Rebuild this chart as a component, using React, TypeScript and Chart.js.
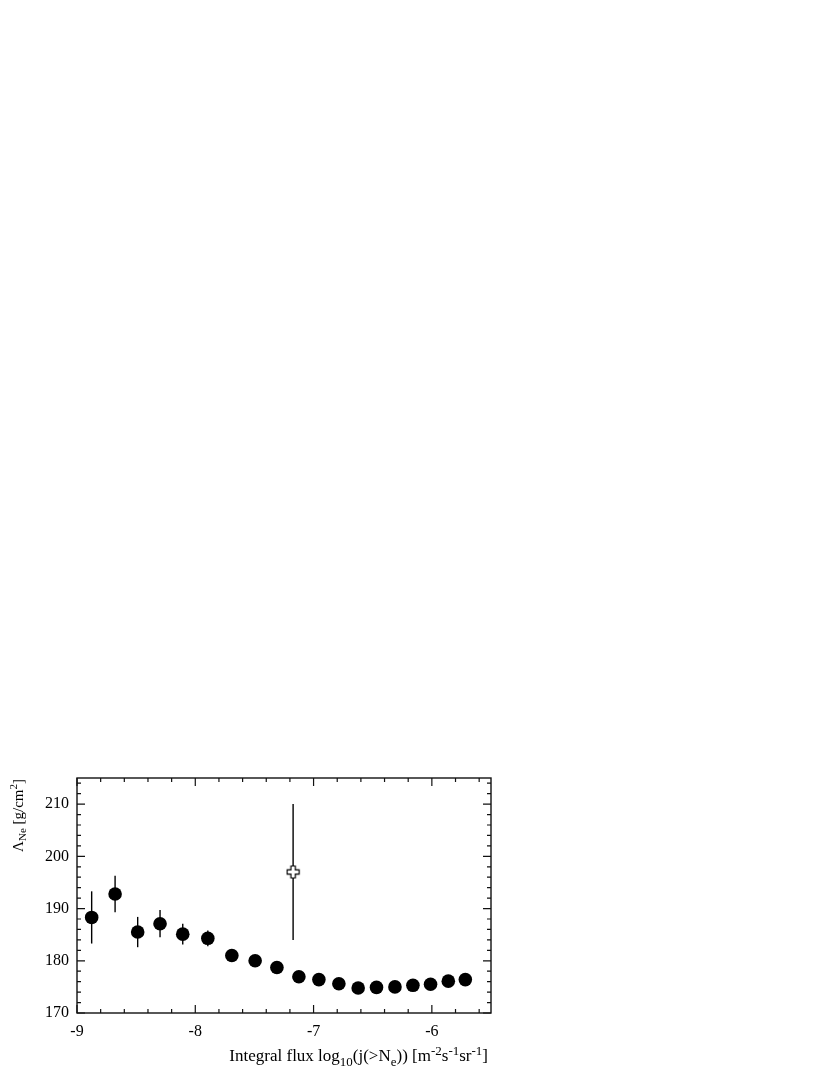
import React, { useEffect, useRef } from 'react';
import { Chart, registerables } from 'chart.js';

Chart.register(...registerables);

// Filled points: integral flux (log10) vs attenuation length Λ_Ne
const fluxX = [-8.876, -8.678, -8.487, -8.298, -8.106, -7.894, -7.691, -7.494, -7.31, -7.124, -6.955, -6.786, -6.623, -6.468, -6.312, -6.16, -6.011, -5.861, -5.717];
const lambdaY = [188.3, 192.8, 185.5, 187.1, 185.1, 184.3, 181.0, 180.0, 178.7, 176.95, 176.4, 175.6, 174.8, 174.9, 175.0, 175.3, 175.5, 176.1, 176.4];
const lambdaErr = [5.0, 3.5, 2.9, 2.6, 2.0, 1.5, 0.8, 0.7, 0.6, 0.5, 0.5, 0.5, 0.5, 0.5, 0.5, 0.5, 0.5, 0.5, 0.5];

// Open cross point
const openX = [-7.173];
const openY = [197.0];
const openErr = [13.0];

// Axis ranges and ticks
const xMin = -9;
const xMax = -5.5;
const xMajorStep = 1;
const xMinorStep = 0.2;
const yMin = 170;
const yMax = 215;
const yMajorStep = 10;
const yMinorStep = 2;

type Seg = { t: string; k: 'n' | 'sub' | 'sup' };
const xTitle: Seg[] = [
  { t: 'Integral flux log', k: 'n' },
  { t: '10', k: 'sub' },
  { t: '(j(>N', k: 'n' },
  { t: 'e', k: 'sub' },
  { t: ')) [m', k: 'n' },
  { t: '-2', k: 'sup' },
  { t: 's', k: 'n' },
  { t: '-1', k: 'sup' },
  { t: 'sr', k: 'n' },
  { t: '-1', k: 'sup' },
  { t: ']', k: 'n' },
];
const yTitle: Seg[] = [
  { t: 'Λ', k: 'n' },
  { t: 'Ne', k: 'sub' },
  { t: ' [g/cm', k: 'n' },
  { t: '2', k: 'sup' },
  { t: ']', k: 'n' },
];

const FONT = "'Liberation Serif', 'Times New Roman', serif";
const TICK = 16;

type RichStyle = { main: number; small: number; subDy: number; supDy: number };
const xTitleStyle: RichStyle = { main: 17, small: 13, subDy: 5, supDy: -6 };
const yTitleStyle: RichStyle = { main: 15, small: 11, subDy: 3, supDy: -6 };

function segFont(k: string, st: RichStyle) {
  return `${k === 'n' ? st.main : st.small}px ${FONT}`;
}
function richWidth(ctx: CanvasRenderingContext2D, segs: Seg[], st: RichStyle) {
  let w = 0;
  for (const s of segs) {
    ctx.font = segFont(s.k, st);
    w += ctx.measureText(s.t).width;
  }
  return w;
}
function drawRich(ctx: CanvasRenderingContext2D, segs: Seg[], st: RichStyle, x: number, y: number) {
  let cx = x;
  ctx.textBaseline = 'alphabetic';
  ctx.textAlign = 'left';
  for (const s of segs) {
    ctx.font = segFont(s.k, st);
    const dy = s.k === 'sub' ? st.subDy : s.k === 'sup' ? st.supDy : 0;
    ctx.fillText(s.t, cx, y + dy);
    cx += ctx.measureText(s.t).width;
  }
}

const framePlugin = {
  id: 'frameAndBars',
  beforeDatasetsDraw(chart: any) {
    const { ctx, scales } = chart;
    const xs = scales.x;
    const ys = scales.y;
    ctx.save();
    ctx.strokeStyle = '#000';
    ctx.lineWidth = 1.4;
    const bar = (x: number, y: number, e: number) => {
      const px = xs.getPixelForValue(x);
      ctx.beginPath();
      ctx.moveTo(px, ys.getPixelForValue(y + e));
      ctx.lineTo(px, ys.getPixelForValue(y - e));
      ctx.stroke();
    };
    fluxX.forEach((x, i) => bar(x, lambdaY[i], lambdaErr[i]));
    openX.forEach((x, i) => bar(x, openY[i], openErr[i]));
    ctx.restore();
  },
  afterDraw(chart: any) {
    const { ctx, chartArea: a, scales } = chart;
    const xs = scales.x;
    const ys = scales.y;
    ctx.save();
    ctx.strokeStyle = '#111';
    ctx.lineWidth = 1.4;
    ctx.strokeRect(a.left, a.top, a.right - a.left, a.bottom - a.top);
    ctx.lineWidth = 1.2;
    ctx.beginPath();
    // x ticks (bottom and top, inside)
    const nx = Math.floor((xMax - xMin) / xMinorStep + 1e-6);
    for (let i = 0; i <= nx; i++) {
      const v = xMin + i * xMinorStep;
      if (v > xMax + 1e-9) break;
      const major = Math.abs(v / xMajorStep - Math.round(v / xMajorStep)) < 1e-6;
      const len = major ? 8 : 4;
      const px = xs.getPixelForValue(v);
      ctx.moveTo(px, a.bottom);
      ctx.lineTo(px, a.bottom - len);
      ctx.moveTo(px, a.top);
      ctx.lineTo(px, a.top + len);
    }
    const ny = Math.floor((yMax - yMin) / yMinorStep + 1e-6);
    for (let i = 0; i <= ny; i++) {
      const v = yMin + i * yMinorStep;
      if (v > yMax + 1e-9) break;
      const major = Math.abs(v / yMajorStep - Math.round(v / yMajorStep)) < 1e-6;
      const len = major ? 8 : 4;
      const py = ys.getPixelForValue(v);
      ctx.moveTo(a.left, py);
      ctx.lineTo(a.left + len, py);
      ctx.moveTo(a.right, py);
      ctx.lineTo(a.right - len, py);
    }
    ctx.stroke();

    // Axis titles
    ctx.fillStyle = '#000';
    const wx = richWidth(ctx, xTitle, xTitleStyle);
    drawRich(ctx, xTitle, xTitleStyle, a.right - 3 - wx, a.bottom + 48);
    const wy = richWidth(ctx, yTitle, yTitleStyle);
    ctx.translate(a.left - 54, a.top + 1 + wy);
    ctx.rotate(-Math.PI / 2);
    drawRich(ctx, yTitle, yTitleStyle, 0, 0);
    ctx.restore();
  },
};

function makeCross(): HTMLCanvasElement {
  const c = document.createElement('canvas');
  c.width = 15;
  c.height = 15;
  const g = c.getContext('2d')!;
  const m = 7.5;
  const h = 2.2;
  const L = 6;
  g.beginPath();
  g.moveTo(m - h, m - L);
  g.lineTo(m + h, m - L);
  g.lineTo(m + h, m - h);
  g.lineTo(m + L, m - h);
  g.lineTo(m + L, m + h);
  g.lineTo(m + h, m + h);
  g.lineTo(m + h, m + L);
  g.lineTo(m - h, m + L);
  g.lineTo(m - h, m + h);
  g.lineTo(m - L, m + h);
  g.lineTo(m - L, m - h);
  g.lineTo(m - h, m - h);
  g.closePath();
  g.fillStyle = '#fff';
  g.fill();
  g.strokeStyle = '#000';
  g.lineWidth = 1.2;
  g.stroke();
  return c;
}

export default function App() {
  const ref = useRef<HTMLCanvasElement>(null);
  useEffect(() => {
    if (!ref.current) return;
    const tickFont = { family: FONT, size: TICK };
    const chart = new Chart(ref.current, {
      type: 'scatter',
      data: {
        datasets: [
          {
            data: fluxX.map((x, i) => ({ x, y: lambdaY[i] })),
            pointRadius: 6.8,
            pointStyle: 'circle',
            backgroundColor: '#000',
            borderColor: '#000',
            borderWidth: 0,
          },
          {
            data: openX.map((x, i) => ({ x, y: openY[i] })),
            pointStyle: makeCross() as any,
            pointRadius: 7,
          },
        ],
      },
      plugins: [framePlugin],
      options: {
        responsive: false,
        animation: false,
        devicePixelRatio: 1,
        layout: { padding: { left: 0, top: 770, right: 331, bottom: 0 } },
        plugins: { legend: { display: false }, tooltip: { enabled: false } },
        scales: {
          x: {
            type: 'linear',
            min: xMin,
            max: xMax,
            grid: { display: false, drawTicks: false },
            border: { display: false },
            ticks: {
              stepSize: xMajorStep,
              includeBounds: false,
              padding: 9,
              color: '#000',
              font: tickFont,
              maxRotation: 0,
            },
            afterFit: (s: any) => {
              s.height = 54;
            },
          },
          y: {
            type: 'linear',
            min: yMin,
            max: yMax,
            grid: { display: false, drawTicks: false },
            border: { display: false },
            ticks: {
              stepSize: yMajorStep,
              includeBounds: false,
              padding: 8,
              color: '#000',
              font: tickFont,
            },
            afterFit: (s: any) => {
              s.width = 69;
            },
          },
        },
      } as any,
    });
    return () => chart.destroy();
  }, []);
  return (
    <div style={{ width: 814, height: 1059 }}>
      <canvas ref={ref} width={814} height={1059} style={{ display: 'block' }} />
    </div>
  );
}
